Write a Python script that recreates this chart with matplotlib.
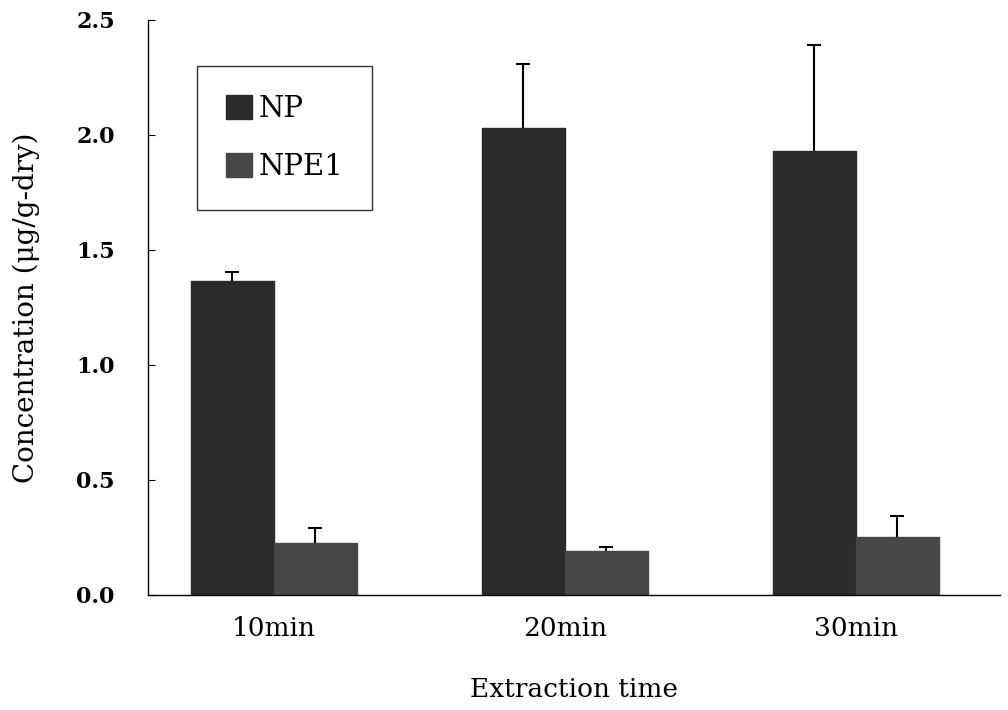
import numpy as np
import matplotlib.pyplot as plt
from matplotlib.patches import Patch

# data
categories = ["10min", "20min", "30min"]
np_mean = [1.365, 2.03, 1.93]
np_err = [0.04, 0.28, 0.46]
npe1_mean = [0.225, 0.19, 0.25]
npe1_err = [0.065, 0.02, 0.095]

plt.rcParams['font.family'] = ['DejaVu Serif']

fig = plt.figure(figsize=(10.08, 7.10), dpi=100)
ax = fig.add_axes([0.1468, 0.162, 0.845, 0.81])

x = np.arange(len(categories))
w = 0.285
np_color = "#2b2b2b"
npe1_color = "#474747"

# only the upper half of each error bar shows; the bar hides the rest
ekw = dict(fmt="none", ecolor="black", elinewidth=1.5, capsize=5, capthick=1.5, zorder=1)
ax.errorbar(x - w / 2, np_mean, yerr=np_err, **ekw)
ax.errorbar(x + w / 2, npe1_mean, yerr=npe1_err, **ekw)
ax.bar(x - w / 2, np_mean, width=w, color=np_color, edgecolor=np_color, zorder=2)
ax.bar(x + w / 2, npe1_mean, width=w, color=npe1_color, edgecolor=npe1_color, zorder=2)

ax.set_xlim(-0.433, 2.495)
ax.set_ylim(0, 2.5)
yt = np.arange(0, 2.51, 0.5)
ax.set_yticks(yt)
ax.set_yticklabels([f"{v:.1f}" for v in yt], fontsize=16, fontweight="bold")
ax.set_xticks(x)
ax.set_xticklabels(categories, fontsize=19)
ax.tick_params(axis='x', length=0, pad=15)
ax.tick_params(axis='y', direction='in', length=5, pad=24)

for s in ["top", "right"]:
    ax.spines[s].set_visible(False)
ax.spines["left"].set_linewidth(1.0)
ax.spines["bottom"].set_linewidth(1.0)

ax.set_xlabel("Extraction time", fontsize=19, labelpad=26)
ax.set_ylabel("Concentration (μg/g-dry)", fontsize=20, labelpad=26)

handles = [Patch(facecolor=np_color, edgecolor=np_color, label="NP"),
           Patch(facecolor=npe1_color, edgecolor=npe1_color, label="NPE1")]
leg = ax.legend(handles=handles, loc="upper left", bbox_to_anchor=(197 / 1008, 1 - 66 / 710),
                bbox_transform=fig.transFigure, fontsize=21, frameon=True, fancybox=False,
                edgecolor="black", handlelength=0.9, handleheight=0.9, handletextpad=0.2,
                labelspacing=1.0, borderpad=1.0, borderaxespad=0)
leg.get_frame().set_linewidth(1.0)

fig.savefig("out.png", dpi=100)
